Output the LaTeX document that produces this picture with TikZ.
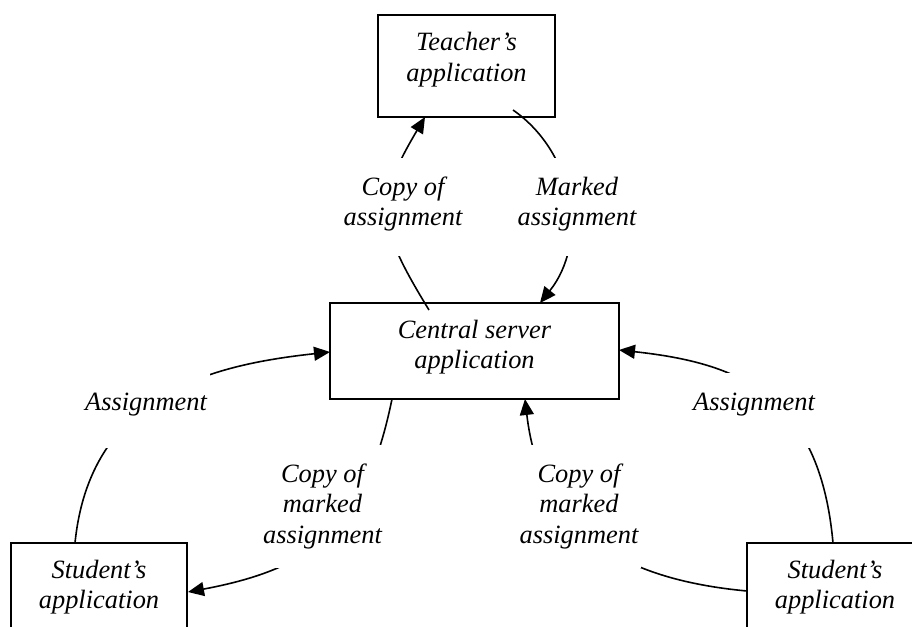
\documentclass[tikz,border=0pt]{standalone}
\usepackage{fontspec}
\setmainfont{Liberation Serif}
\usetikzlibrary{arrows.meta}
% stacked, centred lines with a fixed height above the first baseline and depth below it
\newcommand{\stacklines}[3]{\raisebox{0pt}[#1pt][#2pt]{\begin{tabular}[t]{@{}c@{}}#3\end{tabular}}}

\begin{document}
\begin{tikzpicture}[x=1pt,y=-1pt,
  every node/.style={font=\fontsize{26.4}{30.5}\selectfont\itshape, inner sep=0pt, outer sep=0pt},
  app/.style={draw, line width=1.6pt, minimum width=176pt, minimum height=88pt},
  server/.style={draw, line width=2.7pt, minimum width=289pt, minimum height=96pt},
  flow/.style={line width=1.6pt, -{Triangle[length=16pt,width=14pt]}},
  flowlabel/.style={fill=white, inner xsep=3pt, inner ysep=0pt, anchor=base}
]
\useasboundingbox (0,0) rectangle (912,626);
\clip (0,0) rectangle (912,626);

% applications
\node[app, minimum width=177pt, minimum height=102pt] (teacher) at (466.5,66)
  {\stacklines{18}{48}{Teacher’s\\application}};
\node[server] (central) at (474.5,351)
  {\stacklines{18}{44}{Central server\\application}};
\node[app] (studentL) at (99,587) {\stacklines{18}{36}{Student’s\\application}};
\node[app] (studentR) at (835,587) {\stacklines{18}{36}{Student’s\\application}};

% data flows
\draw[flow] ([shift={(-45.5,7)}]central.north)
  .. controls +(-52,-85) and +(-51,86) .. ([shift={(-41.5,0)}]teacher.south);
\draw[flow] ([shift={(46.5,-7)}]teacher.south)
  .. controls +(63,44) and +(48,-60) .. ([shift={(65.5,0)}]central.north);
\draw[flow] ([shift={(-24,0)}]studentL.north)
  .. controls +(15,-149) and +(-119,13) .. ([shift={(0,1)}]central.west);
\draw[flow] ([shift={(-2,0)}]studentR.north)
  .. controls +(-13.5,-149) and +(119,13) .. ([shift={(0,-1)}]central.east);
\draw[flow] ([shift={(-82.5,0)}]central.south)
  .. controls +(-26,127) and +(128,-24) .. ([shift={(1,5)}]studentL.east);
\draw[flow] ([shift={(0,4)}]studentR.west)
  .. controls +(-129.5,-12) and +(15,129) .. ([shift={(50.5,0)}]central.south);

% flow labels
\node[flowlabel] (lblCopy) at (403,195) {\stacklines{37}{61}{Copy of\\assignment}};
\node[flowlabel] (lblMarked) at (577,195) {\stacklines{37}{61}{Marked\\assignment}};
\node[flowlabel] (lblAssignL) at (146,410) {\stacklines{37}{38}{Assignment}};
\node[flowlabel] (lblAssignR) at (754,410) {\stacklines{37}{38}{Assignment}};
\node[flowlabel] (lblCopyMarkedL) at (322.5,482) {\stacklines{37}{86}{Copy of\\marked\\assignment}};
\node[flowlabel] (lblCopyMarkedR) at (579,482) {\stacklines{37}{86}{Copy of\\marked\\assignment}};
\end{tikzpicture}
\end{document}
